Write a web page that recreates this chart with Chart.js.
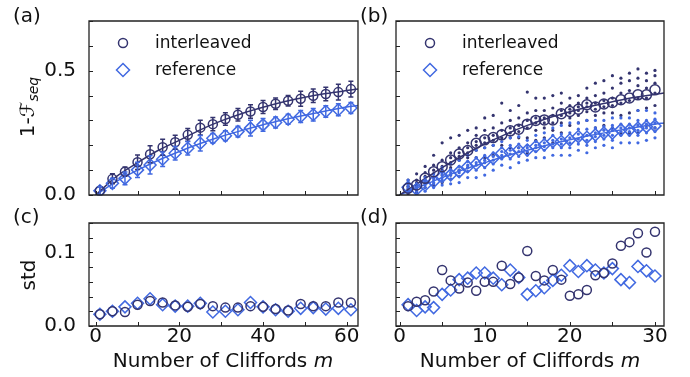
<!DOCTYPE html>
<html>
<head>
<meta charset="utf-8">
<script src="https://cdn.jsdelivr.net/npm/chart.js@4.4.1/dist/chart.umd.min.js"></script>
<style>
  body { margin: 0; background: #fff; }
  #wrap { position: relative; width: 690px; height: 377px; font-family: "DejaVu Sans", sans-serif; color: #111; overflow: hidden; }
  canvas { position: absolute; left: 0; top: 0; }
  .txt { position: absolute; white-space: nowrap; font-size: 20px; line-height: 1; }
  .xlab { transform: translateX(-50%); }
  .ylab { transform: translate(-50%, -50%) rotate(-90deg); }
  .ylab sub { font-size: 14px; vertical-align: -4px; }
</style>
</head>
<body>
<div id="wrap">
  <canvas id="a" width="690" height="377"></canvas>
  <canvas id="b" width="690" height="377"></canvas>
  <canvas id="c" width="690" height="377"></canvas>
  <canvas id="d" width="690" height="377"></canvas>
  <div class="txt" style="left:13px;top:5px">(a)</div>
  <div class="txt" style="left:360px;top:5px">(b)</div>
  <div class="txt" style="left:13px;top:206px">(c)</div>
  <div class="txt" style="left:360px;top:206px">(d)</div>
  <div class="txt ylab" style="left:28px;top:107px">1-<i>ℱ</i><sub><i>seq</i></sub></div>
  <div class="txt ylab" style="left:28px;top:275px">std</div>
  <div class="txt xlab" style="left:223px;top:350px">Number of Cliffords <i>m</i></div>
  <div class="txt xlab" style="left:530px;top:350px">Number of Cliffords <i>m</i></div>
</div>
<script>
// panel (a)/(c): every third sequence length
const mA = [1, 4, 7, 10, 13, 16, 19, 22, 25, 28, 31, 34, 37, 40, 43, 46, 49, 52, 55, 58, 61];
const intA = [0.017, 0.065, 0.094, 0.132, 0.164, 0.192, 0.212, 0.242, 0.271, 0.285, 0.306, 0.323, 0.336, 0.354, 0.367, 0.379, 0.387, 0.399, 0.406, 0.414, 0.426];
const refA = [0.017, 0.047, 0.067, 0.101, 0.121, 0.144, 0.168, 0.188, 0.208, 0.228, 0.238, 0.255, 0.269, 0.282, 0.292, 0.305, 0.316, 0.323, 0.336, 0.343, 0.350];
const stdIntA = [0.016, 0.020, 0.019, 0.029, 0.034, 0.032, 0.028, 0.026, 0.030, 0.027, 0.025, 0.025, 0.027, 0.026, 0.023, 0.021, 0.030, 0.027, 0.027, 0.032, 0.032];
const stdRefA = [0.016, 0.020, 0.026, 0.031, 0.037, 0.029, 0.027, 0.027, 0.031, 0.019, 0.020, 0.022, 0.032, 0.026, 0.022, 0.020, 0.024, 0.025, 0.023, 0.024, 0.022];
const fitXA = [0, 5, 10, 15, 20, 25, 30, 35, 40, 45, 50, 55, 60, 62.7];
const fitIntA = [0.0, 0.075, 0.13, 0.18, 0.22, 0.262, 0.298, 0.328, 0.353, 0.375, 0.393, 0.408, 0.42, 0.426];
const fitRefA = [0.0, 0.055, 0.10, 0.14, 0.175, 0.207, 0.235, 0.26, 0.283, 0.303, 0.321, 0.338, 0.354, 0.36];

// panel (b)/(d): m = 1..30
const mB = [1, 2, 3, 4, 5, 6, 7, 8, 9, 10, 11, 12, 13, 14, 15, 16, 17, 18, 19, 20, 21, 22, 23, 24, 25, 26, 27, 28, 29, 30];
const intB = [0.027, 0.040, 0.067, 0.094, 0.114, 0.141, 0.165, 0.179, 0.208, 0.222, 0.231, 0.242, 0.258, 0.265, 0.285, 0.300, 0.302, 0.302, 0.327, 0.336, 0.345, 0.363, 0.354, 0.366, 0.372, 0.383, 0.390, 0.403, 0.403, 0.423];
const refB = [0.031, 0.023, 0.040, 0.054, 0.074, 0.081, 0.094, 0.114, 0.125, 0.134, 0.148, 0.168, 0.171, 0.181, 0.181, 0.195, 0.202, 0.215, 0.215, 0.222, 0.235, 0.232, 0.242, 0.249, 0.249, 0.262, 0.262, 0.269, 0.275, 0.278];
const stdIntB = [0.027, 0.033, 0.035, 0.047, 0.076, 0.062, 0.051, 0.059, 0.048, 0.060, 0.060, 0.082, 0.057, 0.066, 0.102, 0.068, 0.062, 0.076, 0.063, 0.041, 0.043, 0.049, 0.069, 0.072, 0.085, 0.109, 0.114, 0.126, 0.100, 0.128];
const stdRefB = [0.029, 0.021, 0.026, 0.025, 0.043, 0.049, 0.063, 0.065, 0.072, 0.072, 0.065, 0.056, 0.076, 0.066, 0.043, 0.048, 0.052, 0.062, 0.069, 0.082, 0.074, 0.082, 0.076, 0.072, 0.078, 0.063, 0.059, 0.081, 0.075, 0.068];
const fitXB = [0, 2.5, 5, 7.5, 10, 12.5, 15, 17.5, 20, 22.5, 25, 27.5, 30, 31.06];
const fitIntB = [0.0, 0.055, 0.11, 0.16, 0.205, 0.245, 0.28, 0.31, 0.335, 0.357, 0.375, 0.392, 0.405, 0.41];
const fitRefB = [0.0, 0.035, 0.07, 0.102, 0.13, 0.157, 0.18, 0.202, 0.222, 0.24, 0.256, 0.271, 0.285, 0.29];
// single runs behind the means in (b)
const intDotsB = [
  [0.005, 0.015, 0.025, 0.035, 0.045, 0.06], [0.01, 0.025, 0.035, 0.05, 0.06, 0.085],
  [0.03, 0.05, 0.06, 0.075, 0.09, 0.115], [0.04, 0.07, 0.085, 0.1, 0.12, 0.16],
  [0.05, 0.08, 0.1, 0.115, 0.14, 0.21], [0.08, 0.11, 0.13, 0.15, 0.17, 0.23],
  [0.1, 0.14, 0.155, 0.17, 0.19, 0.24], [0.11, 0.15, 0.17, 0.19, 0.21, 0.26],
  [0.15, 0.18, 0.2, 0.215, 0.24, 0.27], [0.15, 0.19, 0.21, 0.23, 0.26, 0.31],
  [0.16, 0.2, 0.22, 0.24, 0.27, 0.32], [0.15, 0.2, 0.23, 0.26, 0.29, 0.37],
  [0.19, 0.23, 0.25, 0.27, 0.3, 0.34], [0.19, 0.23, 0.255, 0.28, 0.31, 0.36],
  [0.17, 0.23, 0.27, 0.3, 0.33, 0.414], [0.22, 0.26, 0.29, 0.31, 0.34, 0.39],
  [0.23, 0.27, 0.29, 0.31, 0.34, 0.39], [0.21, 0.26, 0.29, 0.32, 0.35, 0.4],
  [0.25, 0.29, 0.32, 0.34, 0.37, 0.41], [0.28, 0.31, 0.33, 0.345, 0.36, 0.39],
  [0.29, 0.32, 0.34, 0.355, 0.37, 0.4], [0.3, 0.335, 0.355, 0.37, 0.39, 0.43],
  [0.27, 0.32, 0.345, 0.37, 0.4, 0.45], [0.28, 0.33, 0.355, 0.38, 0.41, 0.46],
  [0.27, 0.33, 0.36, 0.39, 0.43, 0.48], [0.25, 0.32, 0.37, 0.41, 0.45, 0.47],
  [0.25, 0.33, 0.38, 0.42, 0.46, 0.49], [0.25, 0.34, 0.39, 0.44, 0.47, 0.507],
  [0.28, 0.35, 0.39, 0.43, 0.46, 0.49], [0.27, 0.36, 0.41, 0.45, 0.48, 0.501]
];
const refDotsB = [
  [0.01, 0.02, 0.03, 0.04, 0.05, 0.06], [0.005, 0.015, 0.02, 0.03, 0.035, 0.045],
  [0.015, 0.03, 0.04, 0.045, 0.055, 0.07], [0.03, 0.045, 0.05, 0.06, 0.07, 0.085],
  [0.04, 0.06, 0.07, 0.08, 0.09, 0.11], [0.045, 0.065, 0.08, 0.09, 0.1, 0.125],
  [0.05, 0.075, 0.09, 0.1, 0.115, 0.14], [0.07, 0.095, 0.11, 0.12, 0.135, 0.16],
  [0.07, 0.1, 0.12, 0.13, 0.15, 0.18], [0.08, 0.11, 0.13, 0.14, 0.16, 0.19],
  [0.1, 0.125, 0.14, 0.155, 0.17, 0.2], [0.12, 0.145, 0.16, 0.175, 0.19, 0.215],
  [0.11, 0.145, 0.165, 0.18, 0.2, 0.23], [0.13, 0.155, 0.175, 0.19, 0.205, 0.235],
  [0.14, 0.16, 0.175, 0.19, 0.2, 0.22], [0.15, 0.175, 0.19, 0.2, 0.215, 0.24],
  [0.15, 0.18, 0.195, 0.21, 0.225, 0.25], [0.16, 0.19, 0.205, 0.22, 0.24, 0.27],
  [0.16, 0.19, 0.205, 0.225, 0.245, 0.28], [0.16, 0.19, 0.21, 0.23, 0.25, 0.29],
  [0.18, 0.205, 0.225, 0.245, 0.265, 0.29], [0.17, 0.2, 0.22, 0.24, 0.265, 0.3],
  [0.19, 0.215, 0.235, 0.25, 0.27, 0.3], [0.2, 0.225, 0.24, 0.26, 0.275, 0.3],
  [0.19, 0.22, 0.24, 0.26, 0.28, 0.31], [0.21, 0.24, 0.255, 0.27, 0.285, 0.31],
  [0.21, 0.24, 0.255, 0.27, 0.285, 0.31], [0.21, 0.24, 0.26, 0.28, 0.3, 0.34],
  [0.22, 0.25, 0.27, 0.285, 0.3, 0.34], [0.23, 0.255, 0.27, 0.29, 0.305, 0.33]
];

// axis ticks and their labels
const xTicksA = [0, 10, 20, 30, 40, 50, 60];
const xLabelsA = ['', '', '', '', '', '', ''];
const xLabelsC = ['0', '', '20', '', '40', '', '60'];
const xTicksB = [0, 5, 10, 15, 20, 25, 30];
const xLabelsB = ['', '', '', '', '', '', ''];
const xLabelsD = ['0', '', '10', '', '20', '', '30'];
const yTicksTop = [0, 0.1, 0.2, 0.3, 0.4, 0.5, 0.6, 0.7];
const yLabelsA = ['0.0', '', '', '', '', '0.5', '', ''];
const yLabelsB = ['', '', '', '', '', '', '', ''];
const yTicksBot = [0, 0.02, 0.04, 0.06, 0.08, 0.1, 0.12, 0.14];
const yLabelsC = ['0.0', '', '', '', '', '0.1', '', ''];
const yLabelsD = ['', '', '', '', '', '', '', ''];

const DARK = '#34346f', LIGHT = '#4169e1', FRAME = '#222';
const FONT = '"DejaVu Sans", sans-serif';
const W = 690, H = 377;

const pts = (xs, ys) => xs.map((x, i) => ({x: x, y: ys[i]}));
const dots = (xs, rows) => xs.flatMap((x, i) => rows[i].map(v => ({x: x, y: v})));

// per-panel extras for the deco plugin
const extras = {
    a: {
        err: [{xs: mA, ys: intA, e: stdIntA, color: DARK}, {xs: mA, ys: refA, e: stdRefA, color: LIGHT}],
        legend: true
    },
    b: {legend: true},
    c: {},
    d: {}
};
const legendItems = [
    {label: 'interleaved', shape: 'circle', color: DARK},
    {label: 'reference', shape: 'diamond', color: LIGHT}
];

const drawFrame = function(chart) {
    const ctx = chart.ctx, a = chart.chartArea;
    const x = chart.scales.x, y = chart.scales.y;
    ctx.save();
    ctx.strokeStyle = FRAME;
    ctx.lineWidth = 1;
    ctx.beginPath();
    x.ticks.forEach(function(t) {
        const px = Math.round(x.getPixelForValue(t.value)) + 0.5;
        ctx.moveTo(px, a.bottom);
        ctx.lineTo(px, a.bottom - 4);
    });
    y.ticks.forEach(function(t) {
        const py = Math.round(y.getPixelForValue(t.value)) + 0.5;
        ctx.moveTo(a.left, py);
        ctx.lineTo(a.left + 4, py);
    });
    ctx.stroke();
    ctx.lineWidth = 1.3;
    ctx.beginPath();
    ctx.rect(a.left, a.top, a.right - a.left, a.bottom - a.top);
    ctx.stroke();
    ctx.restore();
};

const drawErrors = function(chart, sets) {
    const ctx = chart.ctx, x = chart.scales.x, y = chart.scales.y;
    ctx.save();
    ctx.lineWidth = 1.5;
    sets.forEach(function(s) {
        ctx.strokeStyle = s.color;
        ctx.beginPath();
        s.xs.forEach(function(m, i) {
            const px = x.getPixelForValue(m);
            const y1 = y.getPixelForValue(s.ys[i] - s.e[i]);
            const y2 = y.getPixelForValue(s.ys[i] + s.e[i]);
            ctx.moveTo(px, y1); ctx.lineTo(px, y2);
            ctx.moveTo(px - 2.5, y1); ctx.lineTo(px + 2.5, y1);
            ctx.moveTo(px - 2.5, y2); ctx.lineTo(px + 2.5, y2);
        });
        ctx.stroke();
    });
    ctx.restore();
};

const drawLegend = function(chart) {
    const ctx = chart.ctx, a = chart.chartArea;
    ctx.save();
    ctx.lineWidth = 1.5;
    ctx.font = '17px ' + FONT;
    ctx.textBaseline = 'middle';
    legendItems.forEach(function(it, i) {
        const cx = a.left + 34, cy = a.top + 22 + i * 27;
        ctx.strokeStyle = it.color;
        ctx.beginPath();
        if (it.shape === 'circle') {
            ctx.arc(cx, cy, 4.5, 0, Math.PI * 2);
        } else {
            ctx.moveTo(cx, cy - 6.5); ctx.lineTo(cx + 6.5, cy);
            ctx.lineTo(cx, cy + 6.5); ctx.lineTo(cx - 6.5, cy);
            ctx.closePath();
        }
        ctx.stroke();
        ctx.fillStyle = '#111';
        ctx.fillText(it.label, a.left + 66, cy + 1);
    });
    ctx.restore();
};

const deco = {
    id: 'deco',
    afterDatasetsDraw: function(chart) {
        const ex = extras[chart.canvas.id];
        if (ex && ex.err) drawErrors(chart, ex.err);
    },
    afterDraw: function(chart) {
        const ex = extras[chart.canvas.id];
        drawFrame(chart);
        if (ex && ex.legend) drawLegend(chart);
    }
};

const circleSet = (data, r) => ({
    data: data, pointStyle: 'circle', pointRadius: r, pointBorderWidth: 1.5,
    pointBorderColor: DARK, pointBackgroundColor: 'rgba(0,0,0,0)'
});
const diamondSet = (data, r) => ({
    data: data, pointStyle: 'rectRot', pointRadius: r, pointBorderWidth: 1.5,
    pointBorderColor: LIGHT, pointBackgroundColor: 'rgba(0,0,0,0)'
});
const fitSet = (data, color) => ({
    data: data, showLine: true, pointRadius: 0, borderColor: color, borderWidth: 1.5,
    cubicInterpolationMode: 'monotone'
});
const dotSet = (data, color) => ({
    data: data, pointStyle: 'circle', pointRadius: 1.6, pointBorderWidth: 0,
    pointBackgroundColor: color
});

function makePanel(id, box, xs, ys, datasets) {
    const yw = 70, xh = 30;
    return new Chart(document.getElementById(id), {
        type: 'scatter',
        data: {datasets: datasets},
        options: {
            responsive: false,
            animation: false,
            events: [],
            layout: {padding: {left: box.l - yw, right: W - box.r, top: box.t, bottom: H - box.b - xh}},
            scales: {
                x: {
                    type: 'linear', min: xs.min, max: xs.max,
                    grid: {display: false}, border: {display: false},
                    afterBuildTicks: s => { s.ticks = xs.ticks.map(v => ({value: v})); },
                    afterFit: s => { s.height = xh; },
                    ticks: {
                        padding: -9, color: '#111', autoSkip: false, maxRotation: 0,
                        font: {family: FONT, size: 20},
                        callback: (v, i) => xs.labels[i]
                    }
                },
                y: {
                    type: 'linear', min: ys.min, max: ys.max,
                    grid: {display: false}, border: {display: false},
                    afterBuildTicks: s => { s.ticks = ys.ticks.map(v => ({value: v})); },
                    afterFit: s => { s.width = yw; },
                    ticks: {
                        padding: 5, color: '#111', autoSkip: false,
                        font: {family: FONT, size: 20},
                        callback: (v, i) => ys.labels[i]
                    }
                }
            },
            plugins: {legend: {display: false}, tooltip: {enabled: false}}
        },
        plugins: [deco]
    });
}

makePanel('a', {l: 89, r: 358, t: 21, b: 195},
    {min: -1.6, max: 62.7, ticks: xTicksA, labels: xLabelsA},
    {min: 0, max: 0.7, ticks: yTicksTop, labels: yLabelsA},
    [
        circleSet(pts(mA, intA), 4.5),
        diamondSet(pts(mA, refA), 6),
        fitSet(pts(fitXA, fitIntA), DARK),
        fitSet(pts(fitXA, fitRefA), LIGHT)
    ]);

makePanel('b', {l: 396, r: 664, t: 21, b: 195},
    {min: -0.42, max: 31.06, ticks: xTicksB, labels: xLabelsB},
    {min: 0, max: 0.7, ticks: yTicksTop, labels: yLabelsB},
    [
        circleSet(pts(mB, intB), 5),
        diamondSet(pts(mB, refB), 6),
        fitSet(pts(fitXB, fitIntB), DARK),
        fitSet(pts(fitXB, fitRefB), LIGHT),
        dotSet(dots(mB, refDotsB), LIGHT),
        dotSet(dots(mB, intDotsB), DARK)
    ]);

makePanel('c', {l: 89, r: 358, t: 223, b: 326},
    {min: -1.6, max: 62.7, ticks: xTicksA, labels: xLabelsC},
    {min: 0, max: 0.14, ticks: yTicksBot, labels: yLabelsC},
    [
        circleSet(pts(mA, stdIntA), 4.5),
        diamondSet(pts(mA, stdRefA), 6)
    ]);

makePanel('d', {l: 396, r: 664, t: 223, b: 326},
    {min: -0.42, max: 31.06, ticks: xTicksB, labels: xLabelsD},
    {min: 0, max: 0.14, ticks: yTicksBot, labels: yLabelsD},
    [
        circleSet(pts(mB, stdIntB), 4.5),
        diamondSet(pts(mB, stdRefB), 6)
    ]);
</script>
</body>
</html>
